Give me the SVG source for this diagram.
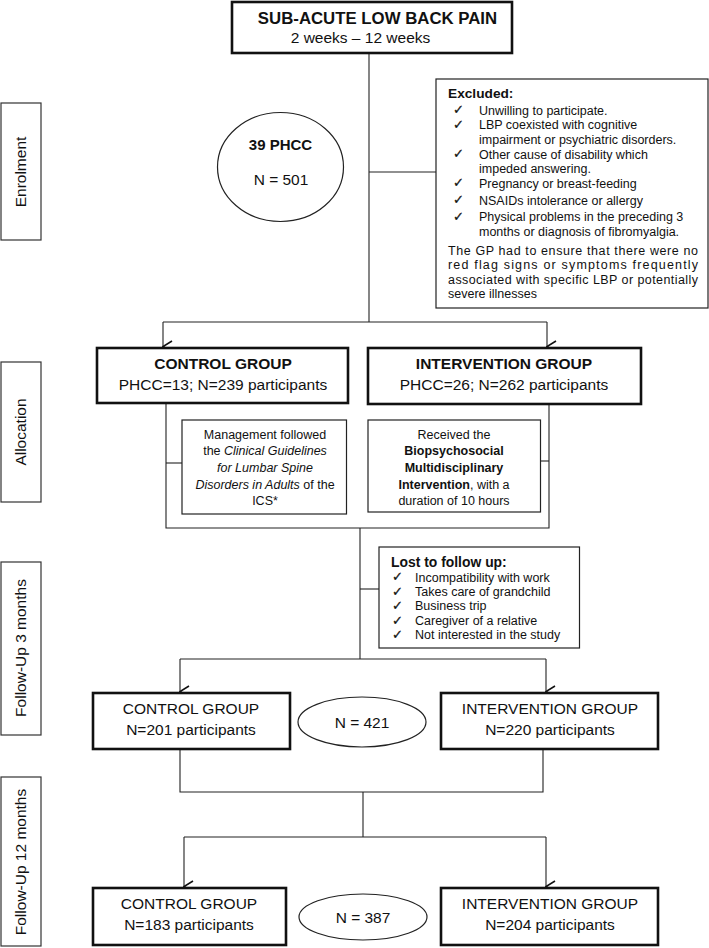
<svg xmlns="http://www.w3.org/2000/svg" width="709" height="948" viewBox="0 0 709 948">
<style>
text{font-family:"Liberation Sans",Arial,sans-serif;fill:#111}
.thick{fill:#fff;stroke:#111;stroke-width:2.6}
.thin{fill:#fff;stroke:#222;stroke-width:1.2}
.side{fill:#fff;stroke:#333;stroke-width:1.2}
.ln{fill:none;stroke:#222;stroke-width:1.1}
.b{font-weight:bold}
.c{text-anchor:middle}
.s155{font-size:15.5px}
.s125{font-size:12.5px}
.chk{font-family:"DejaVu Sans",sans-serif;font-size:12.5px;stroke:#111;stroke-width:0.3}
</style>
<defs>
<marker id="arr" markerWidth="14" markerHeight="12" refX="7" refY="10.5" orient="auto-start-reverse" markerUnits="userSpaceOnUse" viewBox="0 0 14 12">
<path d="M1.5,1.5 L7,10.5 L12.5,1.5" fill="none" stroke="#111" stroke-width="1.6"/>
</marker>
</defs>

<g id="connectors">
<path class="ln" d="M369,53 V322"/>
<path class="ln" d="M369,172 H436"/>
<path class="ln" d="M163,322 H547"/>
<path class="ln" d="M163,322 V346.5" marker-end="url(#arr)"/>
<path class="ln" d="M547,322 V346.5" marker-end="url(#arr)"/>
<path class="ln" d="M166,404 V528 H549 V404"/>
<path class="ln" d="M166,463 H182"/>
<path class="ln" d="M537,461 H549"/>
<path class="ln" d="M360,528 V659"/>
<path class="ln" d="M360,589 H379"/>
<path class="ln" d="M180,659 H546"/>
<path class="ln" d="M180,659 V691.5" marker-end="url(#arr)"/>
<path class="ln" d="M546,659 V691.5" marker-end="url(#arr)"/>
<path class="ln" d="M180,749 V792 H543 V749"/>
<path class="ln" d="M363,792 V837"/>
<path class="ln" d="M184,837 H546"/>
<path class="ln" d="M184,837 V886.5" marker-end="url(#arr)"/>
<path class="ln" d="M546,837 V886.5" marker-end="url(#arr)"/>
</g>

<g id="side-enrolment">
<rect class="side" x="1" y="103" width="40" height="137"/>
<text class="s155 c" transform="translate(26,172) rotate(-90)">Enrolment</text>
</g>
<g id="side-allocation">
<rect class="side" x="1" y="362" width="40" height="140"/>
<text class="s155 c" transform="translate(26,432) rotate(-90)">Allocation</text>
</g>
<g id="side-fu3">
<rect class="side" x="1" y="562" width="40" height="173"/>
<text class="s155 c" transform="translate(26,648) rotate(-90)">Follow-Up 3 months</text>
</g>
<g id="side-fu12">
<rect class="side" x="1" y="777" width="40" height="169"/>
<text class="s155 c" transform="translate(26,862) rotate(-90)">Follow-Up 12 months</text>
</g>

<g id="top">
<rect class="thick" x="232" y="2" width="280" height="51"/>
<text class="b c" x="377.5" y="24" font-size="16.8">SUB-ACUTE LOW BACK PAIN</text>
<text class="s155 c" x="360.5" y="43">2 weeks – 12 weeks</text>
</g>

<g id="phcc">
<ellipse cx="280.5" cy="167" rx="63" ry="54.5" fill="#fff" stroke="#222" stroke-width="1.2"/>
<text class="b c" x="280.5" y="149.5" font-size="15">39 PHCC</text>
<text class="s155 c" x="281" y="184.5">N = 501</text>
</g>

<g id="excluded">
<rect class="thin" x="436" y="79" width="272" height="229"/>
<text class="b" x="448" y="98" font-size="13.7">Excluded:</text>
<g class="chk">
<text x="453" y="114">✓</text>
<text x="453" y="129">✓</text>
<text x="453" y="158">✓</text>
<text x="453" y="187">✓</text>
<text x="453" y="204">✓</text>
<text x="453" y="221">✓</text>
</g>
<g class="s125">
<text x="479" y="114.5">Unwilling to participate.</text>
<text x="479" y="129">LBP coexisted with cognitive</text>
<text x="479" y="143.5">impairment or psychiatric disorders.</text>
<text x="479" y="158.5">Other cause of disability which</text>
<text x="479" y="173">impeded answering.</text>
<text x="479" y="187.5">Pregnancy or breast-feeding</text>
<text x="479" y="204.5">NSAIDs intolerance or allergy</text>
<text x="479" y="221">Physical problems in the preceding 3</text>
<text x="479" y="235.5">months or diagnosis of fibromyalgia.</text>
<text x="448" y="254.5" textLength="250" lengthAdjust="spacing">The GP had to ensure that there were no</text>
<text x="448" y="269" textLength="250" lengthAdjust="spacing">red flag signs or symptoms frequently</text>
<text x="448" y="283.5" textLength="250" lengthAdjust="spacing">associated with specific LBP or potentially</text>
<text x="448" y="298">severe illnesses</text>
</g>
</g>

<g id="control-alloc">
<rect class="thick" x="97" y="348" width="251" height="55"/>
<text class="b c s155" x="223" y="368.5">CONTROL GROUP</text>
<text class="c s155" x="223" y="389.5">PHCC=13; N=239 participants</text>
</g>
<g id="intervention-alloc">
<rect class="thick" x="368" y="348" width="273" height="56"/>
<text class="b c s155" x="504" y="368.5">INTERVENTION GROUP</text>
<text class="c s155" x="504" y="389.5">PHCC=26; N=262 participants</text>
</g>

<g id="control-mgmt">
<rect class="thin" x="182" y="420" width="164.5" height="94"/>
<g class="s125 c">
<text x="265" y="438.5">Management followed</text>
<text x="265" y="455">the <tspan font-style="italic">Clinical Guidelines</tspan></text>
<text x="265" y="471.5" font-style="italic">for Lumbar Spine</text>
<text x="265" y="488.5"><tspan font-style="italic">Disorders in Adults</tspan> of the</text>
<text x="265" y="505">ICS*</text>
</g>
</g>
<g id="intervention-desc">
<rect class="thin" x="368" y="420" width="172.5" height="92"/>
<g class="s125 c">
<text x="454" y="438.5">Received the</text>
<text x="454" y="455" class="b">Biopsychosocial</text>
<text x="454" y="471.5" class="b">Multidisciplinary</text>
<text x="454" y="488.5"><tspan font-weight="bold">Intervention</tspan>, with a</text>
<text x="454" y="505">duration of 10 hours</text>
</g>
</g>

<g id="lost">
<rect class="thin" x="379" y="547" width="200.5" height="101"/>
<text class="b" x="391" y="566.5" font-size="13.9">Lost to follow up:</text>
<g class="chk">
<text x="392" y="581">✓</text>
<text x="392" y="595.5">✓</text>
<text x="392" y="610">✓</text>
<text x="392" y="624.5">✓</text>
<text x="392" y="638.5">✓</text>
</g>
<g class="s125">
<text x="415" y="581.5">Incompatibility with work</text>
<text x="415" y="596">Takes care of grandchild</text>
<text x="415" y="610">Business trip</text>
<text x="415" y="624.5">Caregiver of a relative</text>
<text x="415" y="639">Not interested in the study</text>
</g>
</g>

<g id="control-3m">
<rect class="thick" x="93" y="693" width="197" height="56"/>
<text class="c s155" x="191" y="713.5">CONTROL GROUP</text>
<text class="c s155" x="191" y="734.5">N=201 participants</text>
</g>
<g id="n421">
<ellipse cx="362" cy="722" rx="64" ry="25" fill="#fff" stroke="#222" stroke-width="1.2"/>
<text class="c s155" x="362" y="727.5">N = 421</text>
</g>
<g id="intervention-3m">
<rect class="thick" x="441" y="693" width="217" height="56"/>
<text class="c s155" x="550" y="713.5">INTERVENTION GROUP</text>
<text class="c s155" x="550" y="734.5">N=220 participants</text>
</g>

<g id="control-12m">
<rect class="thick" x="93" y="888" width="193" height="57"/>
<text class="c s155" x="189" y="908.5">CONTROL GROUP</text>
<text class="c s155" x="189" y="929.5">N=183 participants</text>
</g>
<g id="n387">
<ellipse cx="363" cy="917" rx="64" ry="23" fill="#fff" stroke="#222" stroke-width="1.2"/>
<text class="c s155" x="363" y="922.5">N = 387</text>
</g>
<g id="intervention-12m">
<rect class="thick" x="441" y="888" width="217" height="57"/>
<text class="c s155" x="550" y="908.5">INTERVENTION GROUP</text>
<text class="c s155" x="550" y="929.5">N=204 participants</text>
</g>
</svg>
